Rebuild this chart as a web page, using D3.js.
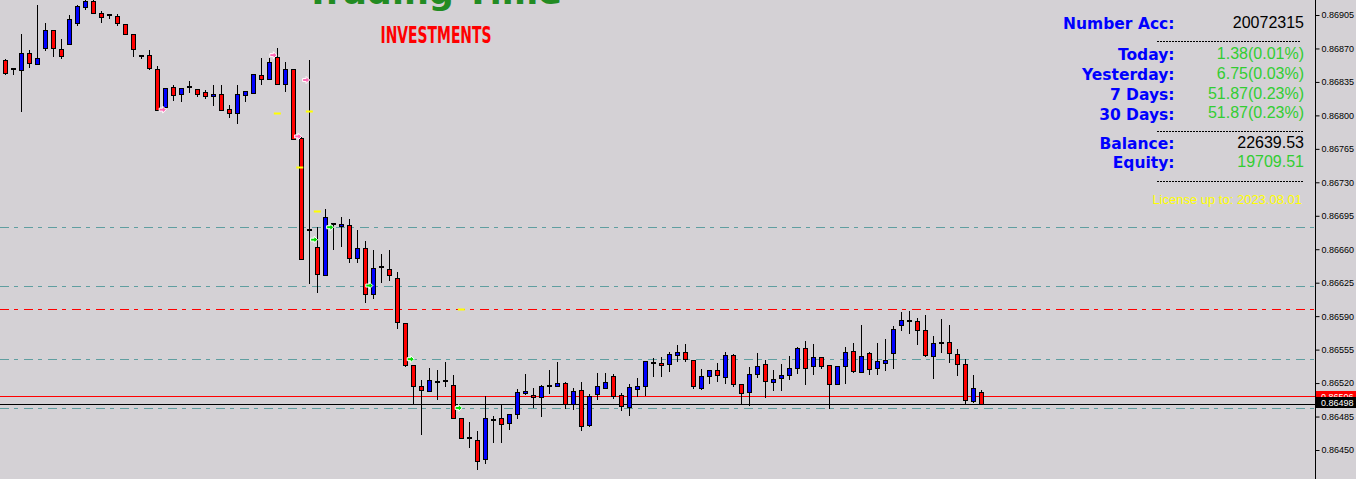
<!DOCTYPE html>
<html><head><meta charset="utf-8">
<script src="https://cdn.jsdelivr.net/npm/d3@7"></script>
<style>html,body{margin:0;padding:0;background:#d4d1d5;overflow:hidden}</style>
</head><body>
<svg id="c" width="1356" height="479"></svg>
<script>
// ---- DATA ----
const opens = [0.86858,0.86848,0.86847,0.86865,0.86854,0.86871,0.86889,0.86869,0.86875,0.86897,
0.86913,0.86920,0.86907,0.86905,0.86904,0.86896,0.86885,0.86862,0.86863,0.86848,
0.86809,0.86830,0.86822,0.86830,0.86828,0.86824,0.86820,0.86822,0.86807,0.86802,
0.86821,0.86823,0.86842,0.86838,0.86861,0.86833,0.86848,0.86776,0.86680,0.86662,
0.86633,0.86686,0.86684,0.86685,0.86651,0.86661,0.86613,0.86641,0.86639,0.86630,
0.86583,0.86539,0.86517,0.86512,0.86521,0.86522,0.86518,0.86483,0.86463,0.86460,
0.86441,0.86481,0.86483,0.86478,0.86488,0.86510,0.86508,0.86505,0.86517,0.86517,
0.86520,0.86498,0.86513,0.86476,0.86509,0.86515,0.86527,0.86508,0.86495,0.86514,
0.86517,0.86541,0.86541,0.86540,0.86549,0.86552,0.86544,0.86515,0.86527,0.86534,
0.86526,0.86549,0.86519,0.86511,0.86529,0.86540,0.86521,0.86525,0.86528,0.86536,
0.86557,0.86538,0.86547,0.86539,0.86519,0.86538,0.86554,0.86532,0.86551,0.86536,
0.86541,0.86551,0.86581,0.86585,0.86585,0.86576,0.86548,0.86562,0.86563,0.86550,
0.86540,0.86501,0.86511];
const highs = [0.86859,0.86849,0.86885,0.86868,0.86915,0.86897,0.86889,0.86880,0.86905,0.86915,
0.86923,0.86924,0.86909,0.86906,0.86906,0.86896,0.86885,0.86863,0.86868,0.86852,
0.86829,0.86832,0.86829,0.86836,0.86828,0.86827,0.86832,0.86832,0.86811,0.86832,
0.86825,0.86843,0.86860,0.86860,0.86870,0.86856,0.86848,0.86777,0.86858,0.86683,
0.86702,0.86686,0.86694,0.86692,0.86680,0.86669,0.86659,0.86655,0.86659,0.86636,
0.86583,0.86539,0.86523,0.86536,0.86534,0.86542,0.86528,0.86483,0.86479,0.86470,
0.86506,0.86486,0.86498,0.86488,0.86514,0.86530,0.86515,0.86518,0.86534,0.86542,
0.86521,0.86515,0.86521,0.86509,0.86531,0.86531,0.86529,0.86510,0.86519,0.86525,
0.86543,0.86546,0.86547,0.86552,0.86560,0.86561,0.86544,0.86535,0.86534,0.86541,
0.86552,0.86550,0.86519,0.86537,0.86551,0.86544,0.86534,0.86540,0.86548,0.86558,
0.86564,0.86561,0.86547,0.86539,0.86538,0.86558,0.86562,0.86581,0.86552,0.86562,
0.86566,0.86580,0.86594,0.86595,0.86588,0.86591,0.86569,0.86587,0.86581,0.86556,
0.86545,0.86528,0.86513];
const lows = [0.86843,0.86843,0.86805,0.86851,0.86854,0.86868,0.86862,0.86860,0.86875,0.86895,
0.86911,0.86907,0.86898,0.86902,0.86895,0.86885,0.86862,0.86860,0.86849,0.86806,
0.86809,0.86816,0.86815,0.86824,0.86820,0.86818,0.86811,0.86806,0.86798,0.86792,
0.86815,0.86823,0.86833,0.86838,0.86833,0.86826,0.86775,0.86650,0.86625,0.86615,
0.86633,0.86660,0.86663,0.86647,0.86647,0.86605,0.86609,0.86626,0.86628,0.86578,
0.86538,0.86499,0.86467,0.86512,0.86503,0.86517,0.86483,0.86463,0.86453,0.86430,
0.86436,0.86458,0.86458,0.86472,0.86483,0.86509,0.86495,0.86486,0.86510,0.86517,
0.86494,0.86493,0.86471,0.86475,0.86503,0.86515,0.86504,0.86492,0.86487,0.86506,
0.86508,0.86527,0.86527,0.86533,0.86543,0.86543,0.86515,0.86514,0.86520,0.86522,
0.86520,0.86517,0.86499,0.86497,0.86526,0.86505,0.86513,0.86513,0.86524,0.86531,
0.86519,0.86530,0.86536,0.86494,0.86519,0.86520,0.86532,0.86532,0.86529,0.86530,
0.86534,0.86536,0.86575,0.86572,0.86561,0.86548,0.86525,0.86552,0.86542,0.86528,
0.86498,0.86500,0.86498];
const closes = [0.86844,0.86848,0.86865,0.86855,0.86860,0.86889,0.86871,0.86862,0.86901,0.86914,
0.86920,0.86907,0.86903,0.86905,0.86897,0.86885,0.86869,0.86862,0.86850,0.86806,
0.86829,0.86821,0.86829,0.86830,0.86822,0.86820,0.86822,0.86806,0.86802,0.86822,
0.86825,0.86843,0.86838,0.86856,0.86833,0.86849,0.86775,0.86650,0.86680,0.86634,
0.86694,0.86686,0.86686,0.86651,0.86661,0.86613,0.86640,0.86641,0.86633,0.86584,
0.86539,0.86517,0.86513,0.86523,0.86521,0.86522,0.86483,0.86463,0.86463,0.86439,
0.86483,0.86481,0.86477,0.86488,0.86511,0.86512,0.86505,0.86517,0.86517,0.86520,
0.86498,0.86512,0.86475,0.86507,0.86517,0.86521,0.86506,0.86496,0.86516,0.86517,
0.86543,0.86541,0.86539,0.86550,0.86552,0.86545,0.86517,0.86527,0.86534,0.86528,
0.86549,0.86519,0.86510,0.86530,0.86538,0.86522,0.86524,0.86528,0.86536,0.86557,
0.86536,0.86547,0.86538,0.86519,0.86538,0.86553,0.86533,0.86548,0.86535,0.86543,
0.86544,0.86577,0.86586,0.86585,0.86575,0.86549,0.86562,0.86562,0.86551,0.86540,
0.86502,0.86515,0.86498];

const priceTicks = [0.86905,0.86870,0.86835,0.86800,0.86765,0.86730,0.86695,0.86660,0.86625,0.86590,0.86555,0.86520,0.86485,0.86450];
const tealLevels = [0.86683,0.86622,0.86545,0.86494];
const redLevels = [0.86598];
const askPrice = 0.86506;
const bidPrice = 0.86498;

const sellArrowBar = [19.67,33.5,37.6,36.6];
const sellArrowPrice = [0.86806,0.86863,0.86837,0.86778];
const buyArrowBar = [38.6,40.6,45.5,50.67,56.67];
const buyArrowPrice = [0.86670,0.86683,0.86622,0.86545,0.86494];
const closeMarkBar = [34,38,36.8,39,57];
const closeMarkPrice = [0.86803,0.86805,0.86746,0.86700,0.86598];

const infoLabels = ["Number Acc:","Today:","Yesterday:","7 Days:","30 Days:","Balance:","Equity:"];
const infoValues = ["20072315","1.38(0.01%)","6.75(0.03%)","51.87(0.23%)","51.87(0.23%)","22639.53","19709.51"];
const infoValueColors = ["#000","#32cd32","#32cd32","#32cd32","#32cd32","#000","#32cd32"];
const licenseText = "License up to:  2023.08.01";
const titleText = "Trading Time";
const subtitleText = "INVESTMENTS";

// ---- DRAW ----
const svg = d3.select("#c");
svg.append("rect").attr("width",1356).attr("height",479).attr("fill","#d4d1d5");

const y = d3.scaleLinear().domain([0.86450,0.86905]).range([450,15]);
const x = d3.scaleLinear().domain([0,122]).range([5.33,981.33]);
const plotRight = 1315;
const py = p => Math.round(y(p)) + 0.5;

// levels
const gl = svg.append("g").attr("shape-rendering","crispEdges");
gl.selectAll("line.teal").data(tealLevels).join("line").attr("class","teal")
  .attr("x1",0).attr("x2",plotRight).attr("y1",py).attr("y2",py)
  .attr("stroke","#5f9ea0").attr("stroke-width",1).attr("stroke-dasharray","9,5,4,6");
gl.selectAll("line.redlvl").data(redLevels).join("line").attr("class","redlvl")
  .attr("x1",0).attr("x2",plotRight).attr("y1",py).attr("y2",py)
  .attr("stroke","#ff0000").attr("stroke-width",1).attr("stroke-dasharray","9,5,4,6");
gl.selectAll("line.px").data([{p:askPrice,c:"#ff0000"},{p:bidPrice,c:"#000000"}]).join("line").attr("class","px")
  .attr("x1",0).attr("x2",plotRight).attr("y1",d=>py(d.p)).attr("y2",d=>py(d.p)).attr("stroke",d=>d.c);

// candles
const data = opens.map((o,i)=>({i,o,h:highs[i],l:lows[i],c:closes[i]}));
const gc = svg.append("g").attr("shape-rendering","crispEdges");
gc.selectAll("line.wick").data(data).join("line").attr("class","wick")
  .attr("x1",d=>Math.floor(x(d.i))+0.5).attr("x2",d=>Math.floor(x(d.i))+0.5)
  .attr("y1",d=>Math.round(y(d.h))).attr("y2",d=>Math.round(y(d.l))+1)
  .attr("stroke","#000");
gc.selectAll("rect.body").data(data.filter(d=>Math.round(y(d.o))!==Math.round(y(d.c)))).join("rect").attr("class","body")
  .attr("x",d=>Math.floor(x(d.i))-1.5)
  .attr("y",d=>Math.min(Math.round(y(d.o)),Math.round(y(d.c)))+0.5)
  .attr("width",4)
  .attr("height",d=>Math.abs(Math.round(y(d.o))-Math.round(y(d.c))))
  .attr("fill",d=>d.c>d.o?"#0000ff":"#ff0000").attr("stroke","#000");
gc.selectAll("rect.doji").data(data.filter(d=>Math.round(y(d.o))===Math.round(y(d.c)))).join("rect").attr("class","doji")
  .attr("x",d=>Math.floor(x(d.i))-2).attr("y",d=>Math.round(y(d.o))-1)
  .attr("width",5).attr("height",2).attr("fill","#000");

// markers
const gm = svg.append("g");
const arrowPath = "M-3.5,-1.5 H0 V-3.5 L3.5,0 L0,3.5 V1.5 H-3.5 Z";
gm.selectAll("path.sell").data(sellArrowBar.map((b,k)=>({b,p:sellArrowPrice[k]}))).join("path").attr("class","sell")
  .attr("d",arrowPath).attr("transform",d=>`translate(${x(d.b)},${y(d.p)})`)
  .attr("fill","#ff69b4").attr("stroke","#fff").attr("stroke-width",1);
gm.selectAll("path.buy").data(buyArrowBar.map((b,k)=>({b,p:buyArrowPrice[k]}))).join("path").attr("class","buy")
  .attr("d",arrowPath).attr("transform",d=>`translate(${x(d.b)},${y(d.p)})`)
  .attr("fill","#00e000").attr("stroke","#fff").attr("stroke-width",1);
gm.selectAll("rect.cm").data(closeMarkBar.map((b,k)=>({b,p:closeMarkPrice[k]}))).join("rect").attr("class","cm")
  .attr("x",d=>x(d.b)-3.5).attr("y",d=>Math.round(y(d.p))-0.5).attr("width",7).attr("height",2)
  .attr("fill","#ffff00");

// axis
svg.append("line").attr("x1",plotRight+0.5).attr("x2",plotRight+0.5).attr("y1",0).attr("y2",479).attr("stroke","#000");
const ga = svg.append("g").attr("transform",`translate(${plotRight+0.5},0)`)
  .call(d3.axisRight(y).tickValues(priceTicks).tickSize(4).tickPadding(2).tickFormat(d3.format(".5f")));
ga.select(".domain").remove();
ga.selectAll("text").attr("font-family","Liberation Sans, Arial, sans-serif").attr("font-size","9px").attr("fill","#000");
ga.selectAll("line").attr("stroke","#000");

// price tags
const tags = [{p:askPrice,c:"#ff0000",off:-5},{p:bidPrice,c:"#000000",off:-7}];
const gt = svg.append("g");
tags.forEach(t=>{
  const ty = Math.round(y(t.p))+t.off;
  gt.append("rect").attr("x",plotRight+1).attr("y",ty).attr("width",40).attr("height",11).attr("fill",t.c);
  gt.append("text").attr("x",plotRight+6).attr("y",ty+8.5).text(d3.format(".5f")(t.p))
    .attr("font-family","Liberation Sans, Arial, sans-serif").attr("font-size","9px").attr("fill","#fff");
});

// titles
svg.append("text").attr("x",434).attr("y",3.5).attr("text-anchor","middle")
  .attr("font-family","DejaVu Sans, sans-serif").attr("font-weight","bold").attr("font-size","34px")
  .attr("textLength",256).attr("lengthAdjust","spacingAndGlyphs")
  .attr("fill","#228b22").text(titleText);
svg.append("text").attr("x",380.5).attr("y",42.7)
  .attr("font-family","Liberation Sans Narrow, DejaVu Sans Condensed, sans-serif").attr("font-weight","bold").attr("font-size","23px")
  .attr("textLength",111).attr("lengthAdjust","spacingAndGlyphs")
  .attr("fill","#ff0000").text(subtitleText);

// info panel
const labelY = [29.3,60,80,100,119.5,149.3,168.3];
const gi = svg.append("g");
gi.selectAll("text.lab").data(infoLabels).join("text").attr("class","lab")
  .attr("x",1174.5).attr("y",(d,k)=>labelY[k]).attr("text-anchor","end")
  .attr("font-family","DejaVu Sans, Verdana, sans-serif").attr("font-weight","bold").attr("font-size","15.5px")
  .attr("fill","#0000ff").text(d=>d);
gi.selectAll("text.val").data(infoValues).join("text").attr("class","val")
  .attr("x",1304).attr("y",(d,k)=>labelY[k]-1.5).attr("text-anchor","end")
  .attr("font-family","Liberation Sans, Arial, sans-serif").attr("font-size","16px")
  .attr("fill",(d,k)=>infoValueColors[k]).text(d=>d);
[[1157,1301,41.5],[1157,1304,131.5],[1157,1304,181.5]].forEach(([a,b,yy])=>{
  gi.append("line").attr("x1",a).attr("x2",b).attr("y1",yy).attr("y2",yy)
    .attr("stroke","#000").attr("stroke-dasharray","2,1");
});
gi.append("text").attr("x",1302).attr("y",204).attr("text-anchor","end")
  .attr("font-family","Liberation Sans, Arial, sans-serif").attr("font-size","13px")
  .attr("fill","#ffff00").text(licenseText);
</script>
</body></html>
